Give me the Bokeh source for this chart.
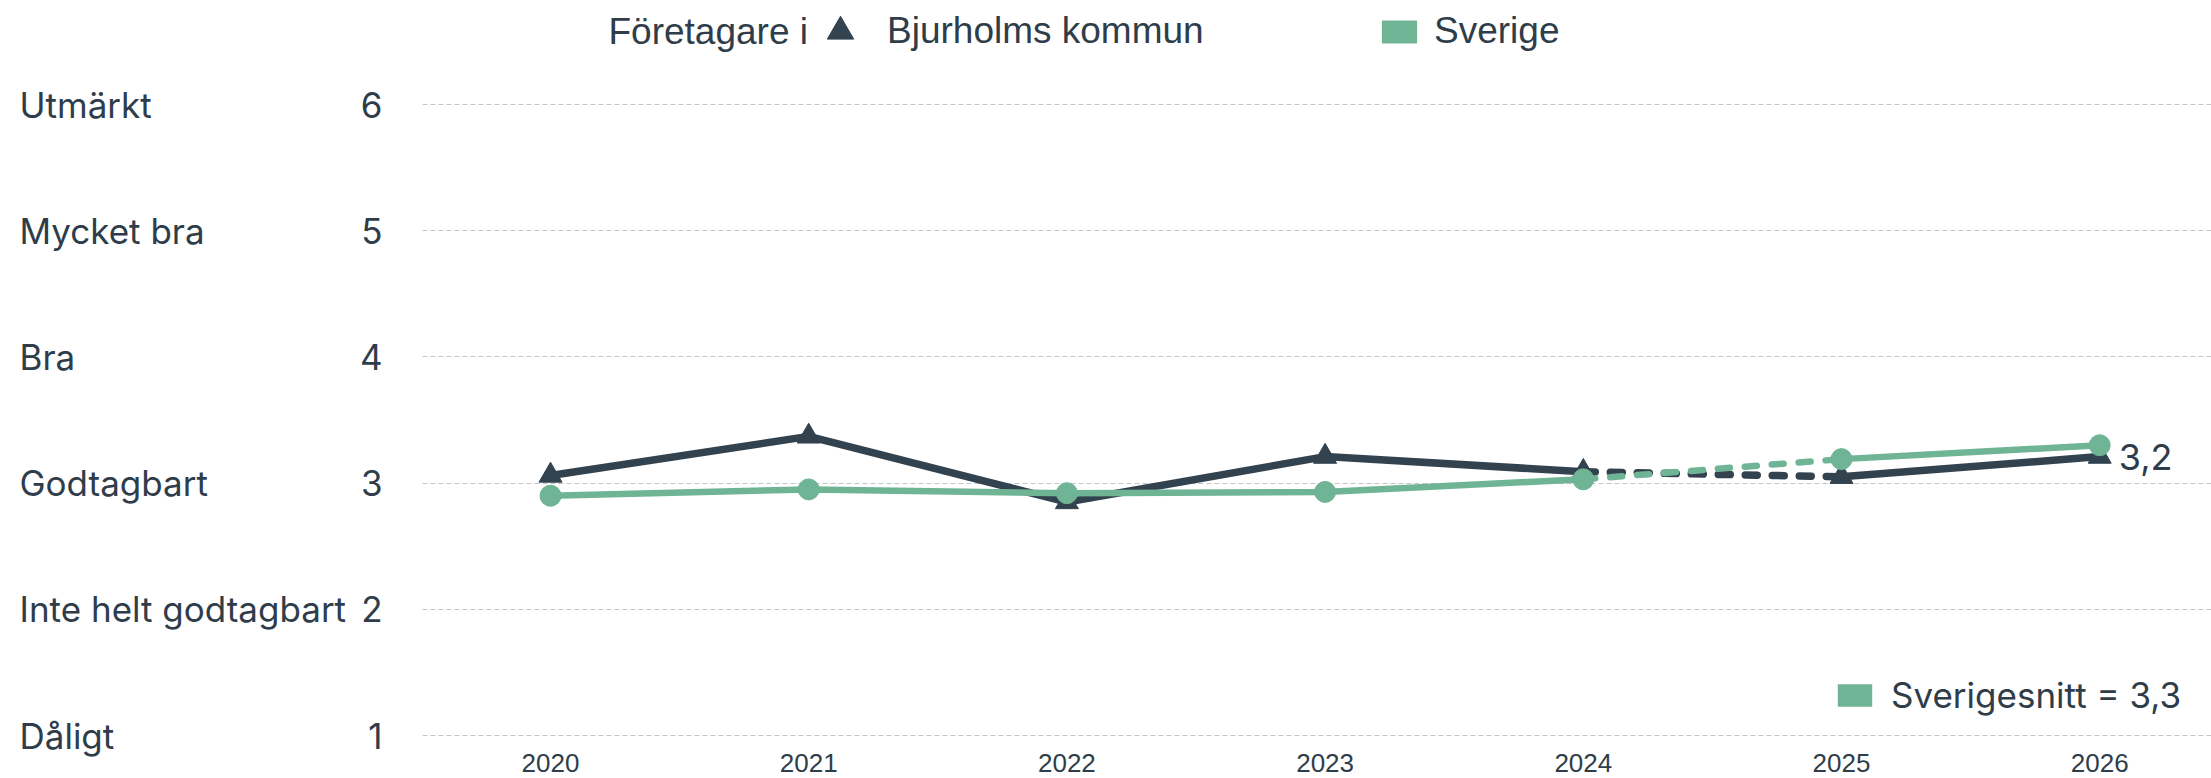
from bokeh.plotting import figure
from bokeh.models import (FixedTicker, Label, Legend, LegendItem, Range1d)
from bokeh.core.properties import value
from bokeh.embed import file_html
from bokeh.resources import INLINE

# ---------------- data ----------------
years = [2020, 2021, 2022, 2023, 2024, 2025, 2026]
bjurholm = [3.06, 3.37, 2.85, 3.21, 3.09, 3.05, 3.21]
sverige = [2.90, 2.95, 2.92, 2.93, 3.03, 3.19, 3.30]
rating_values = [1, 2, 3, 4, 5, 6]
rating_labels = ["Dåligt", "Inte helt godtagbart", "Godtagbart", "Bra", "Mycket bra", "Utmärkt"]
dashed_span = [2024, 2025]
header_prefix = "Företagare i"
series_names = ["Bjurholms kommun", "Sverige"]
avg_name = "Sverigesnitt"


def fmt(v):
    return f"{v:.1f}".replace(".", ",")


# ---------------- style / layout ----------------
DARK = "#33424f"
GREEN = "#6fb495"
TEXT = "#2f3d4b"
GRID = "#c4c4c4"
W, H = 2211, 778
PX_PER_YEAR = 258.2
PX_PER_UNIT = 126.2
X0_PX = 550          # pixel column of the first year
GRID_LEFT_PX = 422   # where the plotting area (gridlines) begins
Y6_PX, Y1_PX = 104, 735
AXIS_Y_PX = 745      # pixel row of the x axis

X_START = years[0] - X0_PX / PX_PER_YEAR
X_END = years[0] + (W - X0_PX) / PX_PER_YEAR
X_AXIS_LOC = years[0] - (X0_PX - GRID_LEFT_PX) / PX_PER_YEAR
Y_END = 6 + Y6_PX / PX_PER_UNIT
Y_START = 1 - (H - Y1_PX) / PX_PER_UNIT
Y_AXIS_LOC = 1 - (AXIS_Y_PX - Y1_PX) / PX_PER_UNIT

p = figure(width=W, height=H, output_backend="svg", toolbar_location=None,
           x_range=Range1d(X_START, X_END), y_range=Range1d(Y_START, Y_END),
           min_border=0)
p.outline_line_color = None
p.background_fill_color = "white"
p.border_fill_color = "white"

p.xgrid.visible = False
g = p.ygrid[0]
g.ticker = FixedTicker(ticks=rating_values)
g.grid_line_color = GRID
g.grid_line_dash = "5 3"
g.grid_line_width = 1
try:
    g.cross_bounds = (X_AXIS_LOC, X_END)
except Exception:
    g.visible = False
    p.segment(x0=[X_AXIS_LOC] * len(rating_values), x1=[X_END] * len(rating_values),
              y0=rating_values, y1=rating_values,
              line_color=GRID, line_dash="5 3", line_width=1)

ya = p.yaxis[0]
ya.fixed_location = X_AXIS_LOC
ya.ticker = FixedTicker(ticks=rating_values)
ya.axis_line_color = None
ya.major_tick_line_color = None
ya.minor_tick_line_color = None
ya.major_label_standoff = 34
ya.major_label_text_font = "Inter"
ya.major_label_text_font_size = "35px"
ya.major_label_text_color = TEXT

xa = p.xaxis[0]
xa.fixed_location = Y_AXIS_LOC
xa.ticker = FixedTicker(ticks=years)
xa.axis_line_color = None
xa.major_tick_line_color = None
xa.minor_tick_line_color = None
xa.major_label_standoff = 2
xa.major_label_text_font = "Liberation Sans"
xa.major_label_text_font_size = "26px"
xa.major_label_text_color = TEXT

# ---------------- lines ----------------
i0 = years.index(dashed_span[0])
i1 = years.index(dashed_span[1])
segments = [(0, i0, False), (i0, i1, True), (i1, len(years) - 1, False)]


def draw_series(vals, color, width):
    for a, b, dashed in segments:
        p.line(years[a:b + 1], vals[a:b + 1], line_color=color, line_width=width,
               line_dash="12 15" if dashed else "solid",
               line_cap="round", line_join="round")


draw_series(bjurholm, DARK, 7.5)
r_tri = p.scatter(years, bjurholm, marker="triangle", size=23,
                  fill_color=DARK, line_color=DARK, line_width=1)
draw_series(sverige, GREEN, 6.5)
r_dot = p.scatter(years, sverige, marker="circle", size=21,
                  fill_color=GREEN, line_color=GREEN)

# value label at the last point
p.text(x=[years[-1]], y=[bjurholm[-1]], text=[fmt(bjurholm[-1])],
       x_offset=19, text_baseline="middle", text_align="left",
       text_font=value("Inter"), text_font_size="36px", text_color=TEXT)

# legend proxy: a quad with no visible extent gives the rectangle icon
nan = float("nan")
r_sq = p.quad(left=[nan], right=[nan], top=[nan], bottom=[nan],
              fill_color=GREEN, line_color=None)


def legend(label, rend, left, bottom, gw, gh, standoff, font, size):
    return Legend(items=[LegendItem(label=label, renderers=[rend])],
                  location=(left, H - bottom),
                  orientation="horizontal",
                  glyph_width=gw, glyph_height=gh, label_standoff=standoff,
                  padding=0, margin=0, border_line_color=None,
                  background_fill_alpha=0,
                  label_text_font=font, label_text_font_size=size,
                  label_text_color=TEXT)


p.add_layout(legend(series_names[0], r_tri, 807, 64, 66, 66, 14, "Liberation Sans", "37px"))
p.add_layout(legend(series_names[1], r_sq, 1377, 52, 44, 29, 13, "Liberation Sans", "37px"))
p.add_layout(legend(f"{avg_name} = {fmt(sverige[-1])}", r_sq, 1833, 716, 43, 28, 15,
                    "Inter", "35px"))

# header prefix text, placed relative to the top gridline
p.add_layout(Label(x=X_START, y=rating_values[-1], x_offset=608, y_offset=Y6_PX - 31,
                   text=header_prefix, text_baseline="middle", text_align="left",
                   text_font="Liberation Sans", text_font_size="37px",
                   text_color=TEXT))

# rating names on the far left, one per y tick
for v, name in zip(rating_values, rating_labels):
    p.add_layout(Label(x=X_START, y=v, x_offset=19, text=name,
                       text_baseline="middle", text_align="left",
                       text_font="Inter", text_font_size="35px",
                       text_color=TEXT))

open("out.html", "w").write(file_html(p, INLINE))
